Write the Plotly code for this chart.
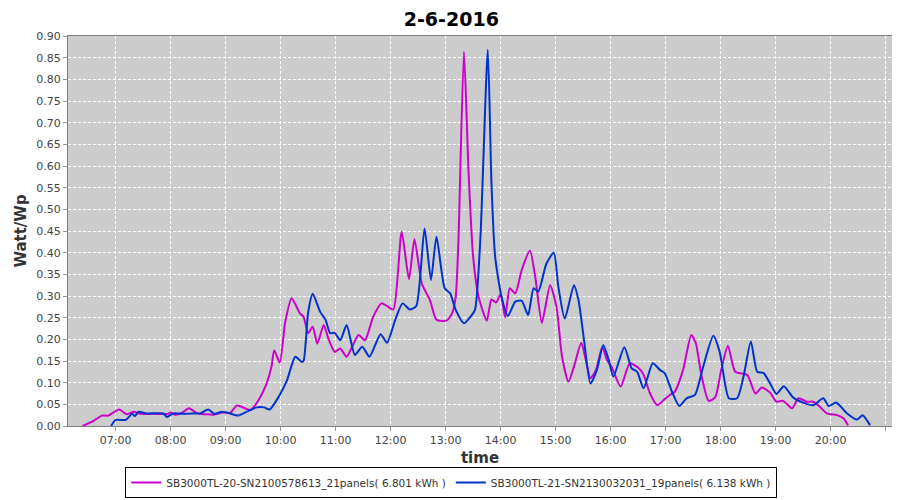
import pandas as pd
import plotly.graph_objects as go

DAY = '2016-06-02'

########## Data ##########
sb20_times = [
    '06:24', '06:36', '06:45', '06:52', '07:04', '07:12', '07:20', '07:27', '07:40', '07:57',
    '08:00', '08:05', '08:12', '08:20', '08:29', '08:38', '08:47', '08:57', '09:05', '09:12',
    '09:21', '09:27', '09:36', '09:45', '09:50', '09:53', '09:59', '10:05', '10:12', '10:21',
    '10:25', '10:30', '10:35', '10:40', '10:47', '10:52', '10:59', '11:05', '11:12', '11:25',
    '11:32', '11:41', '11:50', '11:56', '12:03', '12:12', '12:20', '12:26', '12:34', '12:43',
    '12:50', '13:01', '13:07', '13:11', '13:14', '13:20', '13:25', '13:30', '13:36', '13:45',
    '13:50', '13:55', '14:00', '14:05', '14:10', '14:16', '14:23', '14:32', '14:38', '14:45',
    '14:54', '15:01', '15:07', '15:14', '15:20', '15:28', '15:33', '15:38', '15:44', '15:51',
    '15:56', '16:01', '16:11', '16:21', '16:31', '16:36', '16:43', '16:51', '16:59', '17:05',
    '17:10', '17:19', '17:28', '17:33', '17:39', '17:47', '17:54', '18:01', '18:08', '18:16',
    '18:29', '18:38', '18:45', '18:54', '19:01', '19:08', '19:18', '19:25', '19:34', '19:41',
    '19:48', '19:56', '20:07', '20:14', '20:19',
]
sb20_values = [
    0.000, 0.012, 0.024, 0.024, 0.038, 0.027, 0.033, 0.028, 0.028, 0.028,
    0.031, 0.026, 0.030, 0.041, 0.029, 0.027, 0.026, 0.031, 0.030, 0.047,
    0.041, 0.037, 0.060, 0.100, 0.137, 0.175, 0.146, 0.240, 0.295, 0.260,
    0.252, 0.214, 0.229, 0.190, 0.233, 0.202, 0.171, 0.179, 0.160, 0.210,
    0.198, 0.252, 0.283, 0.277, 0.269, 0.448, 0.339, 0.431, 0.329, 0.290,
    0.245, 0.243, 0.260, 0.298, 0.429, 0.864, 0.587, 0.391, 0.298, 0.243,
    0.292, 0.285, 0.304, 0.251, 0.318, 0.306, 0.360, 0.405, 0.341, 0.238,
    0.325, 0.275, 0.160, 0.102, 0.137, 0.192, 0.152, 0.110, 0.129, 0.183,
    0.152, 0.137, 0.091, 0.145, 0.133, 0.118, 0.075, 0.048, 0.062, 0.072,
    0.079, 0.129, 0.210, 0.191, 0.118, 0.058, 0.066, 0.133, 0.185, 0.125,
    0.118, 0.075, 0.089, 0.077, 0.056, 0.058, 0.041, 0.064, 0.056, 0.056,
    0.045, 0.029, 0.025, 0.018, 0.002,
]

sb21_times = [
    '06:55', '07:00', '07:11', '07:18', '07:21', '07:25', '07:34', '07:52', '07:56', '08:03',
    '08:14', '08:23', '08:32', '08:41', '08:48', '08:56', '09:05', '09:13', '09:23', '09:34',
    '09:42', '09:48', '09:58', '10:07', '10:16', '10:23', '10:25', '10:30', '10:35', '10:43',
    '10:49', '10:54', '10:59', '11:05', '11:12', '11:21', '11:29', '11:37', '11:49', '11:56',
    '12:05', '12:13', '12:21', '12:28', '12:37', '12:44', '12:50', '12:59', '13:05', '13:11',
    '13:20', '13:27', '13:32', '13:38', '13:46', '13:50', '13:54', '14:01', '14:08', '14:16',
    '14:23', '14:30', '14:36', '14:41', '14:50', '14:58', '15:03', '15:10', '15:20', '15:25',
    '15:31', '15:38', '15:45', '15:52', '15:58', '16:03', '16:15', '16:23', '16:29', '16:36',
    '16:46', '16:54', '16:59', '17:07', '17:15', '17:23', '17:32', '17:41', '17:52', '17:59',
    '18:09', '18:18', '18:25', '18:33', '18:40', '18:47', '18:54', '19:01', '19:09', '19:19',
    '19:30', '19:41', '19:52', '19:58', '20:06', '20:18', '20:29', '20:35', '20:43',
]
sb21_values = [
    0.000, 0.014, 0.014, 0.028, 0.023, 0.033, 0.029, 0.029, 0.021, 0.029,
    0.028, 0.029, 0.029, 0.038, 0.028, 0.033, 0.029, 0.024, 0.033, 0.043,
    0.043, 0.038, 0.068, 0.106, 0.160, 0.148, 0.150, 0.262, 0.305, 0.264,
    0.245, 0.214, 0.215, 0.198, 0.233, 0.164, 0.183, 0.160, 0.212, 0.192,
    0.245, 0.283, 0.269, 0.277, 0.456, 0.337, 0.437, 0.318, 0.306, 0.268,
    0.237, 0.252, 0.268, 0.437, 0.868, 0.560, 0.391, 0.298, 0.254, 0.287,
    0.289, 0.256, 0.318, 0.310, 0.375, 0.400, 0.321, 0.248, 0.325, 0.290,
    0.198, 0.098, 0.129, 0.187, 0.152, 0.114, 0.182, 0.133, 0.125, 0.087,
    0.145, 0.129, 0.122, 0.079, 0.046, 0.064, 0.072, 0.137, 0.208, 0.171,
    0.064, 0.064, 0.114, 0.195, 0.125, 0.122, 0.098, 0.074, 0.092, 0.066,
    0.054, 0.048, 0.064, 0.046, 0.054, 0.029, 0.015, 0.025, 0.002,
]

series_names = [
    'SB3000TL-20-SN2100578613_21panels( 6.801 kWh )',
    'SB3000TL-21-SN2130032031_19panels( 6.138 kWh )',
]
series_colors = ['#CC00CC', '#0033CC']

title = '2-6-2016'
x_range = ['06:08', '21:07']


def to_dt(times):
    return pd.to_datetime([f'{DAY} {t}' for t in times])


########## Figure ##########
# the page body has an 8px margin, so the figure is 8px smaller each way
fig = go.Figure()
for times, values, name, color in zip(
    [sb20_times, sb21_times],
    [sb20_values, sb21_values],
    series_names,
    series_colors,
):
    fig.add_trace(go.Scatter(
        x=to_dt(times),
        y=values,
        mode='lines',
        name=name,
        line=dict(color=color, width=2, shape='spline', smoothing=0.6),
    ))

fig.update_layout(
    width=892,
    height=492,
    paper_bgcolor='white',
    plot_bgcolor='#CCCCCC',
    font=dict(family='DejaVu Sans', color='#444444', size=11),
    margin=dict(l=60, r=8, t=28, b=74),
    title=dict(
        text=f'<b>{title}</b>',
        x=0.497,
        xanchor='center',
        y=0.976,
        yanchor='middle',
        font=dict(size=19, color='black'),
        automargin=False,
    ),
    showlegend=True,
    legend=dict(
        orientation='h',
        xref='container',
        yref='container',
        x=0.497,
        xanchor='center',
        y=0.004,
        yanchor='bottom',
        bgcolor='white',
        bordercolor='black',
        borderwidth=1,
        font=dict(size=10.5, color='#333333'),
        itemwidth=30,
        tracegroupgap=0,
    ),
)

fig.update_xaxes(
    type='date',
    range=to_dt(x_range),
    dtick=3600000,
    tick0=f'{DAY} 00:00',
    tickformat='%H:%M',
    ticks='outside',
    ticklen=4,
    tickcolor='#999999',
    showgrid=True,
    gridcolor='white',
    griddash='3px,2px',
    gridwidth=1,
    showline=True,
    linecolor='#808080',
    mirror=True,
    zeroline=False,
    automargin=False,
    title=dict(text='<b>time</b>', font=dict(size=15, color='#333333'), standoff=8),
)
fig.update_yaxes(
    range=[0, 0.9],
    dtick=0.05,
    tickformat='.2f',
    ticks='outside',
    ticklen=4,
    tickcolor='#999999',
    showgrid=True,
    gridcolor='white',
    griddash='3px,2px',
    gridwidth=1,
    showline=True,
    linecolor='#808080',
    mirror=True,
    zeroline=False,
    automargin=False,
    title=dict(text='<b>Watt/Wp</b>', font=dict(size=15, color='#333333'), standoff=6),
)

fig.write_html('out.html')
